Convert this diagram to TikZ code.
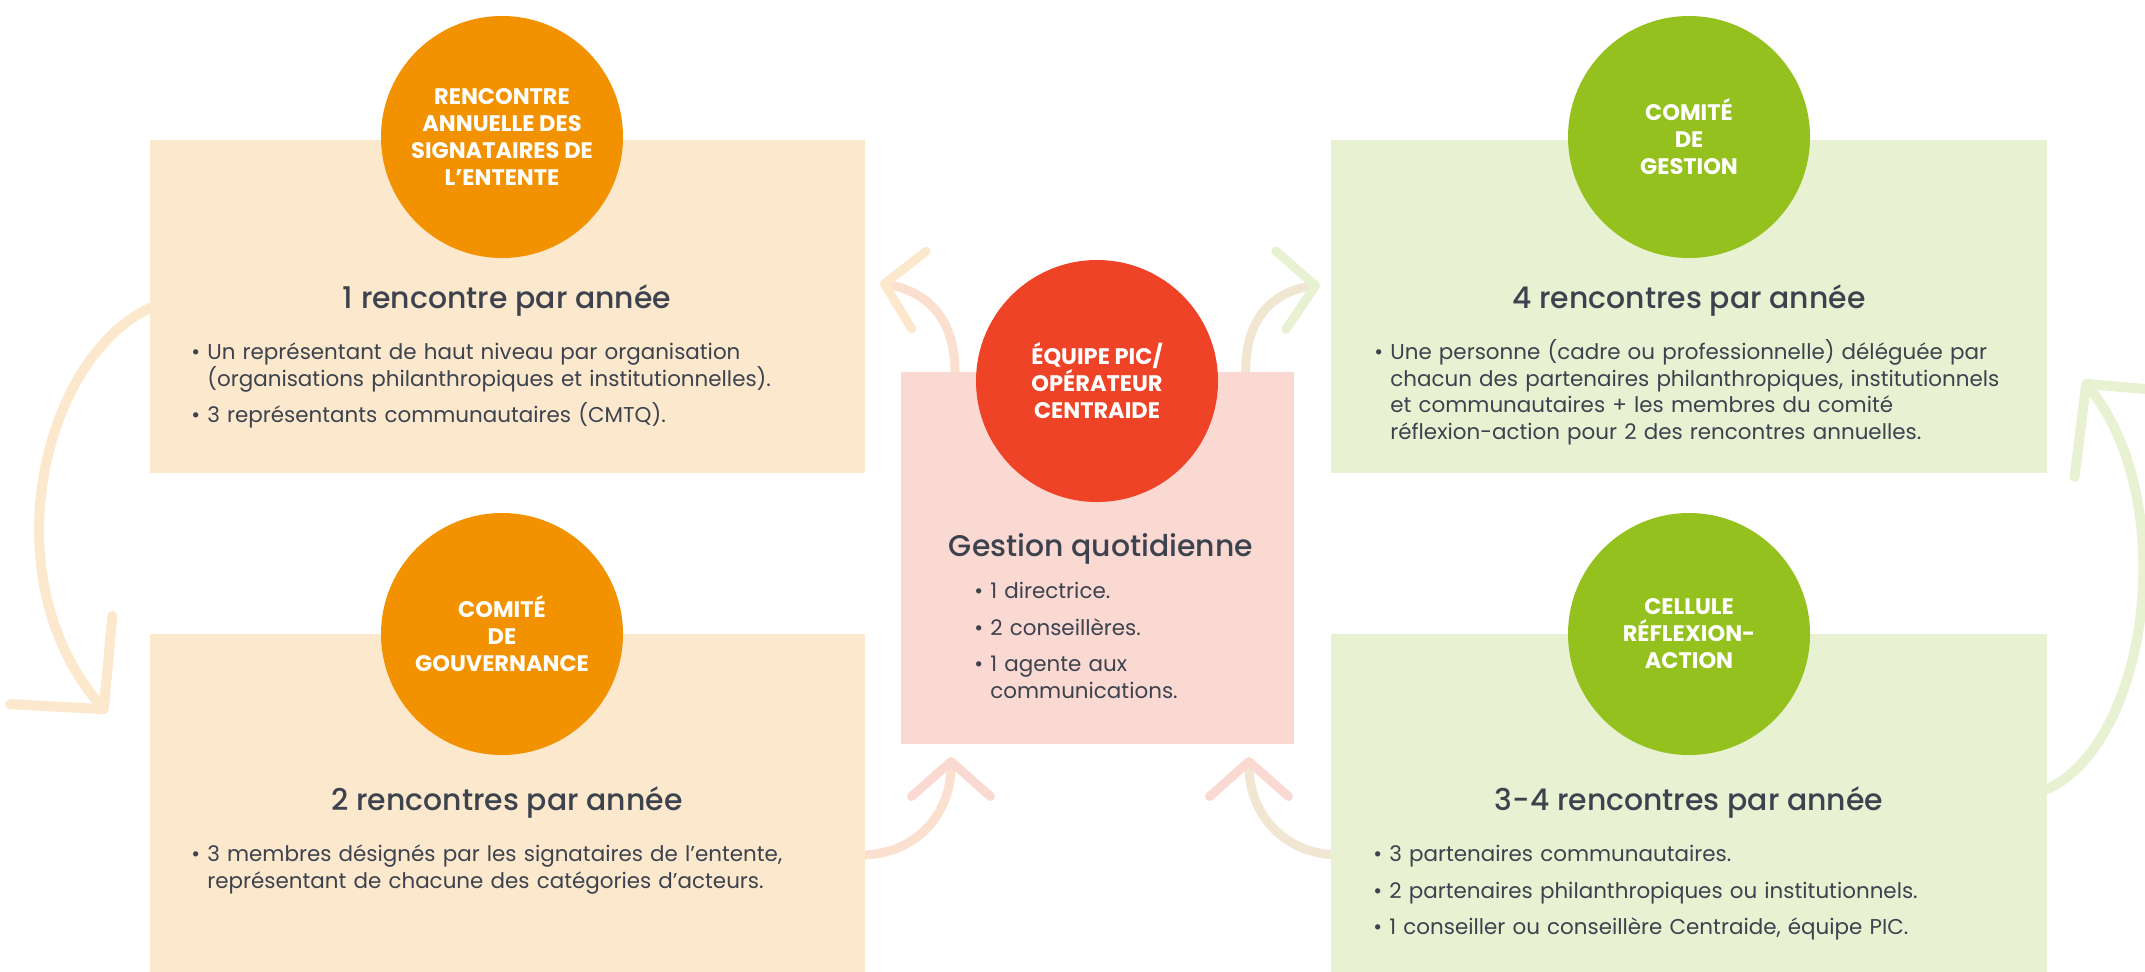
\documentclass[tikz,border=0pt]{standalone}
\usepackage{fontspec}
\setmainfont{Poppins}
\newfontfamily\moyen{Poppins Medium}
\usetikzlibrary{positioning}
\usetikzlibrary{arrows.meta}
\usetikzlibrary{backgrounds}
\usetikzlibrary{calc}

\definecolor{orangeVif}{HTML}{F39200}
\definecolor{orangePale}{HTML}{FCE8CC}
\definecolor{rougeVif}{HTML}{EE4327}
\definecolor{rosePale}{HTML}{FAD9D2}
\definecolor{vertVif}{HTML}{95C11F}
\definecolor{vertPale}{HTML}{E8F2D3}
\definecolor{grisTexte}{HTML}{3C424E}
\colorlet{roseOrange}{rosePale!50!orangePale}
\colorlet{roseVert}{rosePale!50!vertPale}

\newcommand{\corps}{\fontsize{12.2pt}{15.1pt}\selectfont\lineskiplimit=-\maxdimen}
\newcommand{\titre}{\moyen\fontsize{17pt}{20pt}\selectfont}
\newcommand{\titreCercle}{\bfseries\fontsize{12.8pt}{15.4pt}\selectfont}
\newcommand{\puce}{\par\lineskiplimit=-\maxdimen\hangindent=3.2mm\hangafter=1\noindent\makebox[3.2mm][l]{\textbullet}\rule{0pt}{12pt}\setlength{\parskip}{2mm}}

\tikzset{boxStyle/.style={rectangle, inner sep=0pt, anchor=north west}}
\tikzset{circStyle/.style={circle, inner sep=0pt, minimum size=48.4mm, text=white, align=center, font=\titreCercle}}
\tikzset{titreStyle/.style={anchor=base, inner sep=0pt, text=grisTexte, font=\titre}}
\tikzset{listeStyle/.style={anchor=north west, inner sep=0pt, text=grisTexte, align=left, font=\corps}}
\tikzset{grande/.style={line width=2mm, line cap=round, -{Straight Barb[round, length=13mm, width=27mm]}}, petite/.style={line width=1.8mm, line cap=round, -{Straight Barb[round, length=7mm, width=15.8mm]}}}

\begin{document}
\begin{tikzpicture}[x=0.2mm, y=-0.2mm]
  \useasboundingbox (0,0) rectangle (2145,971);
  \clip (0,0) rectangle (2145,971);

  % boxes
  \node at (150,140) [boxStyle, fill=orangePale, minimum width=143mm, minimum height=66.6mm] (boxAnnuelle){};
  \node at (150,634) [boxStyle, fill=orangePale, minimum width=143mm, minimum height=68mm] (boxGouv){};
  \node at (901,372) [boxStyle, fill=rosePale, minimum width=78.6mm, minimum height=74.4mm] (boxEquipe){};
  \node at (1331,140) [boxStyle, fill=vertPale, minimum width=143.2mm, minimum height=66.6mm] (boxGestion){};
  \node at (1331,634) [boxStyle, fill=vertPale, minimum width=143.2mm, minimum height=68mm] (boxCellule){};

  % circles
  \node at (502,137) [circStyle, fill=orangeVif] (circAnnuelle){RENCONTRE\\ANNUELLE DES\\SIGNATAIRES DE\\L’ENTENTE};
  \node at (502,634) [circStyle, fill=orangeVif] (circGouv){COMITÉ\\DE\\GOUVERNANCE};
  \node at (1097,381) [circStyle, fill=rougeVif] (circEquipe){ÉQUIPE PIC/\\OPÉRATEUR\\CENTRAIDE};
  \node at (1689,137) [circStyle, fill=vertVif] (circGestion){COMITÉ\\DE\\GESTION};
  \node at (1689,634) [circStyle, fill=vertVif] (circCellule){CELLULE\\RÉFLEXION-\\ACTION};

  % texts
  \node at (507,308) [titreStyle] (titreAnnuelle){1 rencontre par année};
  \node at (191,333) [listeStyle, text width=130mm] (listeAnnuelle){\puce Un représentant de haut niveau par organisation\newline(organisations philanthropiques et institutionnelles).\puce 3 représentants communautaires (CMTQ).\par};
  \node at (507,810) [titreStyle] (titreGouv){2 rencontres par année};
  \node at (191,835) [listeStyle, text width=130mm] (listeGouv){\puce 3 membres désignés par les signataires de l’entente,\newline représentant de chacune des catégories d’acteurs.\par};
  \node at (1101,556) [titreStyle] (titreEquipe){Gestion quotidienne};
  \node at (974,572) [listeStyle, text width=60mm] (listeEquipe){\puce 1 directrice.\puce 2 conseillères.\puce 1 agente aux\newline communications.\par};
  \node at (1689,308) [titreStyle] (titreGestion){4 rencontres par année};
  \node at (1374,333) [listeStyle, text width=130mm] (listeGestion){\puce Une personne (cadre ou professionnelle) déléguée par\newline chacun des partenaires philanthropiques, institutionnels\newline et communautaires + les membres du comité\newline réflexion-action pour 2 des rencontres annuelles.\par};
  \node at (1689,810) [titreStyle] (titreCellule){3-4 rencontres par année};
  \node at (1373,835) [listeStyle, text width=130mm] (listeCellule){\puce 3 partenaires communautaires.\puce 2 partenaires philanthropiques ou institutionnels.\puce 1 conseiller ou conseillère Centraide, équipe PIC.\par};

  % arrow ends
  \coordinate (versGouv) at (107,713);
  \coordinate (versGestion) at (2083,380);
  \coordinate (versAnnuelle) at (880,283);
  \coordinate (versGestionB) at (1320,285);
  \coordinate (versEquipeA) at (951,757);
  \coordinate (versEquipeB) at (1249,757);

  % arrows
  \begin{scope}[on background layer]
    \draw [grande, draw=orangePale] ($(boxAnnuelle.north west)+(43,158)$) .. controls (60,300) and (-25,560) .. (versGouv);
    \draw [grande, draw=vertPale] ($(boxCellule.north east)+(0,155)$) .. controls (2150,740) and (2180,500) .. (versGestion);
    \draw [petite, draw=roseOrange, -{Straight Barb[round, length=7mm, width=15.8mm, color=orangePale]}] ($(boxEquipe.north west)+(54,0)$) .. controls (955,310) and (918,290) .. (versAnnuelle);
    \draw [petite, draw=roseVert, -{Straight Barb[round, length=7mm, width=15.8mm, color=vertPale]}] ($(boxEquipe.north east)+(-49,0)$) .. controls (1245,310) and (1282,290) .. (versGestionB);
    \draw [petite, draw=roseOrange, -{Straight Barb[round, length=7mm, width=15.8mm, color=rosePale]}] ($(boxGouv.north east)+(-5,221)$) .. controls (915,855) and (951,815) .. (versEquipeA);
    \draw [petite, draw=roseVert, -{Straight Barb[round, length=7mm, width=15.8mm, color=rosePale]}] ($(boxCellule.north west)+(9,221)$) .. controls (1285,855) and (1249,815) .. (versEquipeB);
  \end{scope}
\end{tikzpicture}
\end{document}
